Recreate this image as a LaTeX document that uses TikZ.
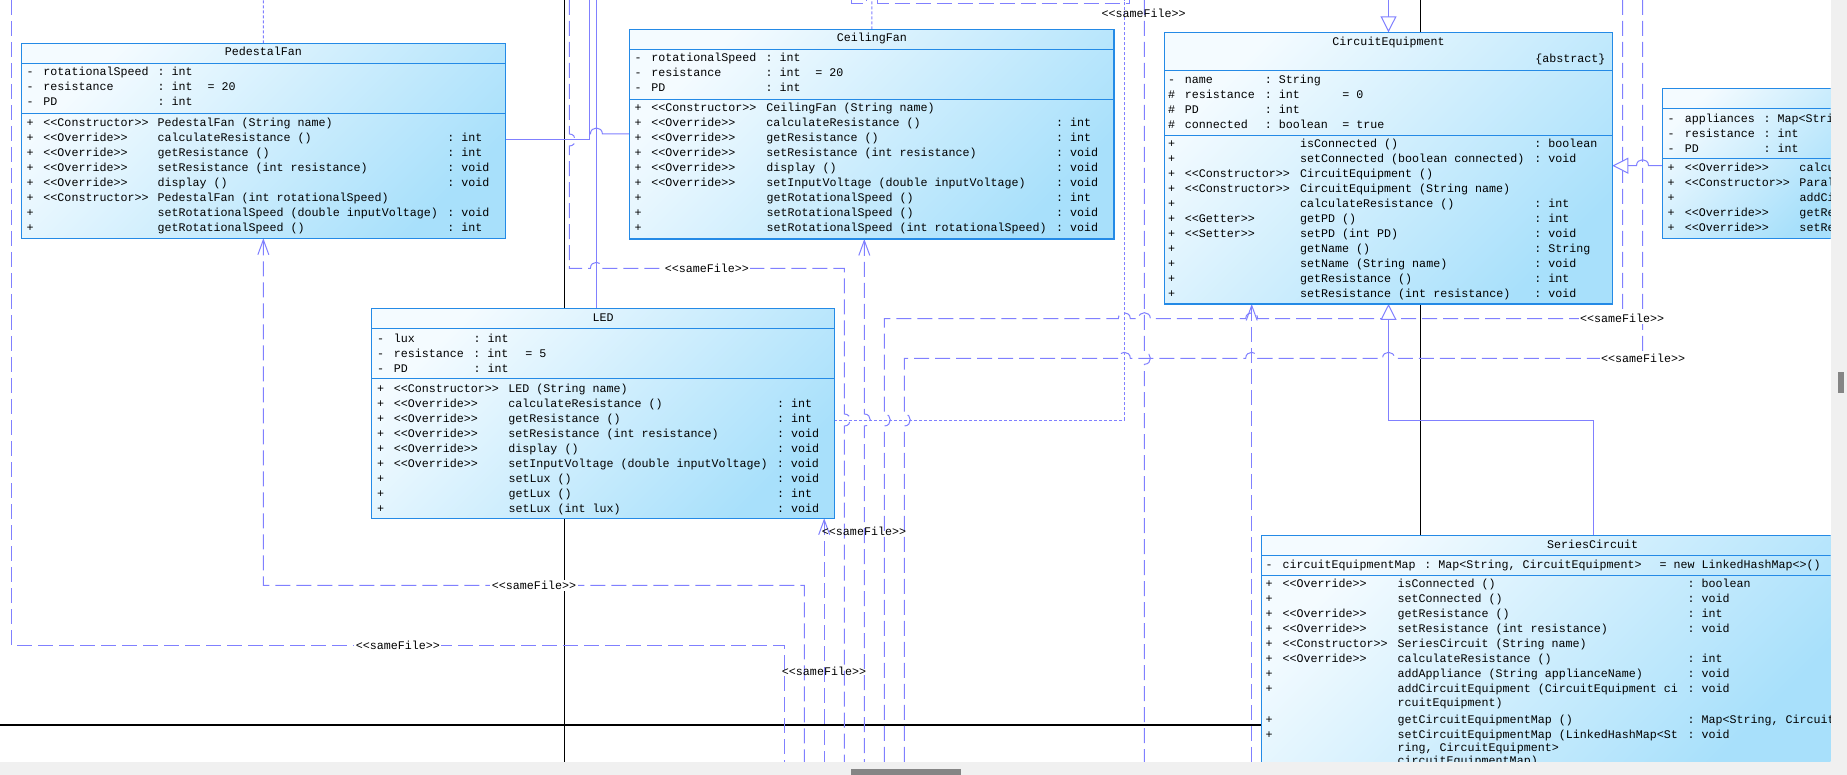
\documentclass[tikz,border=0pt]{standalone}
\usepackage{fontspec}
\setmonofont{Liberation Mono}
\usetikzlibrary{arrows.meta,backgrounds}

\definecolor{umlBorder}{RGB}{36,138,230}
\definecolor{umlLight}{RGB}{244,251,255}
\definecolor{umlDeep}{RGB}{168,224,251}
\definecolor{linkBlue}{RGB}{128,128,255}
\definecolor{barGray}{RGB}{240,240,240}
\definecolor{thumbGray}{RGB}{133,133,133}

\newcommand{\umlfont}{\ttfamily\fontsize{11.67}{15}\selectfont}

\tikzset{
  classbox/.style={draw=umlBorder, line width=1.2pt, top color=umlLight, bottom color=umlDeep,
    shading angle=45, inner sep=0pt, outer sep=0pt, anchor=north west},
  sepline/.style={draw=umlBorder, line width=1.2pt},
  umltext/.style={font=\umlfont, inner sep=0pt, anchor=north west},
  classname/.style={font=\umlfont, inner sep=0pt, anchor=base},
  solidlink/.style={draw=linkBlue, line width=1pt},
  dashlink/.style={solidlink, dash pattern=on 15pt off 6pt},
  dotlink/.style={solidlink, dash pattern=on 3pt off 2pt},
  dep/.style={{Straight Barb[length=15pt,width=11pt]}-},
  inherit/.style={{Triangle[length=16pt,width=16pt,fill=white]}-},
  blackline/.style={draw=black, line width=1pt},
  samefile/.style={font=\umlfont, inner sep=1.5pt, fill=white},
  samefileclear/.style={font=\umlfont, inner sep=1.5pt},
  hop/.style 2 args={insert path={-- (#1-6,#2) .. controls (#1-6,#2-8) and (#1+6,#2-8) .. (#1+6,#2)}},
  hopback/.style 2 args={insert path={-- (#1+6,#2) .. controls (#1+6,#2-8) and (#1-6,#2-8) .. (#1-6,#2)}},
  vhop/.style 2 args={insert path={-- (#1,#2-6) .. controls (#1+8,#2-6) and (#1+8,#2+6) .. (#1,#2+6)}}
}

\begin{document}
\begin{tikzpicture}[x=1pt, y=-1pt]
\useasboundingbox (0,0) rectangle (1847,775);

\begin{scope}
\clip (0,0) rectangle (1830.5,761.7);

% PedestalFan
\node[classbox, minimum width=483.9pt, minimum height=195pt] (pedestal) at (21.4,43.3) {};
\draw[sepline] ([yshift=-20pt]pedestal.north west) -- ([yshift=-20pt]pedestal.north east);
\draw[sepline] ([yshift=-70pt]pedestal.north west) -- ([yshift=-70pt]pedestal.north east);
\node[classname] (pedestalName) at (263.35,55.7) {PedestalFan};
\node[umltext] (pedestalAttr) at (26.5,65.2) {\begin{tabular}{@{}p{16.8pt}@{}p{114.2pt}@{}p{50pt}@{}l@{}}
- & rotationalSpeed & : int & \\
- & resistance & : int & = 20\\
- & PD & : int &
\end{tabular}};
\node[umltext] (pedestalOps) at (26.5,115.5) {\begin{tabular}{@{}p{16.8pt}@{}p{114.2pt}@{}p{289.7pt}@{}l@{}}
+ & <<Constructor>> & PedestalFan (String name) & \\
+ & <<Override>> & calculateResistance () & : int\\
+ & <<Override>> & getResistance () & : int\\
+ & <<Override>> & setResistance (int resistance) & : void\\
+ & <<Override>> & display () & : void\\
+ & <<Constructor>> & PedestalFan (int rotationalSpeed) & \\
+ & & setRotationalSpeed (double inputVoltage) & : void\\
+ & & getRotationalSpeed () & : int
\end{tabular}};

% CeilingFan
\node[classbox, minimum width=484.3pt, minimum height=209.7pt] (ceiling) at (629.7,29.3) {};
\draw[sepline] ([yshift=-20pt]ceiling.north west) -- ([yshift=-20pt]ceiling.north east);
\draw[sepline] ([yshift=-70pt]ceiling.north west) -- ([yshift=-70pt]ceiling.north east);
\node[classname] (ceilingName) at (871.85,41.7) {CeilingFan};
\node[umltext] (ceilingAttr) at (634.5,51.2) {\begin{tabular}{@{}p{16.7pt}@{}p{114.3pt}@{}p{49.6pt}@{}l@{}}
- & rotationalSpeed & : int & \\
- & resistance & : int & = 20\\
- & PD & : int &
\end{tabular}};
\node[umltext] (ceilingOps) at (634.5,101.2) {\begin{tabular}{@{}p{16.7pt}@{}p{115.1pt}@{}p{289.7pt}@{}l@{}}
+ & <<Constructor>> & CeilingFan (String name) & \\
+ & <<Override>> & calculateResistance () & : int\\
+ & <<Override>> & getResistance () & : int\\
+ & <<Override>> & setResistance (int resistance) & : void\\
+ & <<Override>> & display () & : void\\
+ & <<Override>> & setInputVoltage (double inputVoltage) & : void\\
+ & & getRotationalSpeed () & : int\\
+ & & setRotationalSpeed () & : void\\
+ & & setRotationalSpeed (int rotationalSpeed) & : void
\end{tabular}};

% CircuitEquipment
\node[classbox, minimum width=447.6pt, minimum height=271.7pt] (equipment) at (1164.7,32.3) {};
\draw[sepline] ([yshift=-38pt]equipment.north west) -- ([yshift=-38pt]equipment.north east);
\draw[sepline] ([yshift=-103pt]equipment.north west) -- ([yshift=-103pt]equipment.north east);
\node[classname] (equipmentName) at (1388.5,46) {CircuitEquipment};
\node[classname, anchor=base east] (equipmentTag) at (1605.6,62.7) {\{abstract\}};
\node[umltext] (equipmentAttr) at (1167.8,72.5) {\begin{tabular}{@{}p{16.8pt}@{}p{80.1pt}@{}p{77.4pt}@{}l@{}}
- & name & : String & \\
\# & resistance & : int & = 0\\
\# & PD & : int & \\
\# & connected & : boolean & = true
\end{tabular}};
\node[umltext] (equipmentOps) at (1167.8,137.2) {\begin{tabular}{@{}p{16.8pt}@{}p{115.4pt}@{}p{234.1pt}@{}l@{}}
+ & & isConnected () & : boolean\\
+ & & setConnected (boolean connected) & : void\\
+ & <<Constructor>> & CircuitEquipment () & \\
+ & <<Constructor>> & CircuitEquipment (String name) & \\
+ & & calculateResistance () & : int\\
+ & <<Getter>> & getPD () & : int\\
+ & <<Setter>> & setPD (int PD) & : void\\
+ & & getName () & : String\\
+ & & setName (String name) & : void\\
+ & & getResistance () & : int\\
+ & & setResistance (int resistance) & : void
\end{tabular}};

% LED
\node[classbox, minimum width=462.4pt, minimum height=210pt] (led) at (371.8,308.3) {};
\draw[sepline] ([yshift=-20pt]led.north west) -- ([yshift=-20pt]led.north east);
\draw[sepline] ([yshift=-70pt]led.north west) -- ([yshift=-70pt]led.north east);
\node[classname] (ledName) at (603,321.3) {LED};
\node[umltext] (ledAttr) at (376.9,331.5) {\begin{tabular}{@{}p{16.7pt}@{}p{79.7pt}@{}p{51.8pt}@{}l@{}}
- & lux & : int & \\
- & resistance & : int & = 5\\
- & PD & : int &
\end{tabular}};
\node[umltext] (ledOps) at (376.9,381.5) {\begin{tabular}{@{}p{16.7pt}@{}p{114.7pt}@{}p{268.5pt}@{}l@{}}
+ & <<Constructor>> & LED (String name) & \\
+ & <<Override>> & calculateResistance () & : int\\
+ & <<Override>> & getResistance () & : int\\
+ & <<Override>> & setResistance (int resistance) & : void\\
+ & <<Override>> & display () & : void\\
+ & <<Override>> & setInputVoltage (double inputVoltage) & : void\\
+ & & setLux () & : void\\
+ & & getLux () & : int\\
+ & & setLux (int lux) & : void
\end{tabular}};

% SeriesCircuit
\node[classbox, minimum width=570.6pt, minimum height=228.7pt] (series) at (1261.4,535.3) {};
\draw[sepline] ([yshift=-20pt]series.north west) -- ([yshift=-20pt]series.north east);
\draw[sepline] ([yshift=-40pt]series.north west) -- ([yshift=-40pt]series.north east);
\node[classname] (seriesName) at (1592.6,548) {SeriesCircuit};
\node[umltext] (seriesAttr) at (1265.5,557.5) {\begin{tabular}{@{}p{17pt}@{}p{141.8pt}@{}p{235.2pt}@{}l@{}}
- & circuitEquipmentMap & : Map<String, CircuitEquipment> & = new LinkedHashMap<>()
\end{tabular}};
\node[umltext] (seriesOps) at (1265.5,577.2) {\begin{tabular}{@{}p{17pt}@{}p{115pt}@{}p{289.9pt}@{}l@{}}
+ & <<Override>> & isConnected () & : boolean\\
+ & & setConnected () & : void\\
+ & <<Override>> & getResistance () & : int\\
+ & <<Override>> & setResistance (int resistance) & : void\\
+ & <<Constructor>> & SeriesCircuit (String name) & \\
+ & <<Override>> & calculateResistance () & : int\\
+ & & addAppliance (String applianceName) & : void\\
+ & & \baselineskip=13.3pt addCircuitEquipment (CircuitEquipment ci\newline rcuitEquipment) & : void\\[15.3pt]
+ & & getCircuitEquipmentMap () & : Map<String, Circuit\\
+ & & \baselineskip=13.3pt setCircuitEquipmentMap (LinkedHashMap<St\newline ring, CircuitEquipment>\newline circuitEquipmentMap) & : void
\end{tabular}};

% ParallelCircuit, cut by the right edge
\node[classbox, minimum width=169.5pt, minimum height=150pt] (parallel) at (1662.5,88.3) {};
\draw[sepline] ([yshift=-20pt]parallel.north west) -- ([yshift=-20pt]parallel.north east);
\draw[sepline] ([yshift=-70pt]parallel.north west) -- ([yshift=-70pt]parallel.north east);
\node[umltext] (parallelAttr) at (1667.5,111.8) {\begin{tabular}{@{}p{17.1pt}@{}p{78.9pt}@{}l@{}}
- & appliances & : Map<Stri\\
- & resistance & : int\\
- & PD & : int
\end{tabular}};
\node[umltext] (parallelOps) at (1667.5,161.2) {\begin{tabular}{@{}p{17.1pt}@{}p{114.7pt}@{}l@{}}
+ & <<Override>> & calcu\\
+ & <<Constructor>> & Paral\\
+ & & addCi\\
+ & <<Override>> & getRe\\
+ & <<Override>> & setRe
\end{tabular}};
\end{scope}

\begin{scope}[on background layer]
\fill[white] (0,0) rectangle (1847,775);
\clip (0,0) rectangle (1830.5,761.7);

% free ends outside the view
\coordinate (leftTop) at (11.5,0);
\coordinate (pedTop) at (263.35,0);
\coordinate (wireTopA) at (564.3,0);
\coordinate (seamTop) at (569.3,0);
\coordinate (fanTop) at (589.3,0);
\coordinate (ledTop) at (596.4,0);
\coordinate (bitA) at (851,0);
\coordinate (bitB) at (866,0);
\coordinate (ceilTop) at (871.85,0);
\coordinate (bitC) at (877,0);
\coordinate (bitD) at (1129,0);
\coordinate (dotTop) at (1124.3,0);
\coordinate (sameTop) at (1144.4,0);
\coordinate (superTop) at (1388.5,0);
\coordinate (wireTopB) at (1420.2,0);
\coordinate (rightTopA) at (1622.5,0);
\coordinate (rightTopB) at (1642.5,0);
\coordinate (wireLeft) at (0,725);
\coordinate (wireBot) at (564.3,762);
\coordinate (downA) at (784.3,762);
\coordinate (downB) at (804.3,762);
\coordinate (downC) at (824.2,762);
\coordinate (downD) at (844.3,762);
\coordinate (downE) at (864.3,762);
\coordinate (downF) at (884.3,762);
\coordinate (downG) at (904.3,762);
\coordinate (downH) at (1144.4,762);
\coordinate (downI) at (1251.7,762);

\draw[blackline] (wireTopA) -- (wireBot);
\draw[blackline] (wireTopB) -- ([xshift=-126.5pt]series.north);
\draw[blackline, line width=1.3pt] (wireLeft) -- ([yshift=-189.7pt]series.north west);

\draw[dashlink] (leftTop) -- (11.5,645.3) -| (downA);
\draw[dashlink, dep] (pedestal.south) -- (263.35,585.3) -| (downB);
\draw[dashlink, dep] ([xshift=221.2pt]led.south) -- (downC);
\draw[dashlink] (seamTop) [vhop={569.3}{140}] -- (569.3,268.3) [hop={596.4}{268.3}] -- (844.3,268.3) [vhop={844.3}{420}] -- (downD);
\draw[dashlink, dep] ([xshift=-7.55pt]ceiling.south) [vhop={864.3}{420}] -- (downE);
\draw[dashlink] (rightTopA) -- (1622.5,318.7) [hopback={1251.7}{318.7}] [hopback={1144.4}{318.7}] [hopback={1124.3}{318.7}] -- (884.3,318.7) [vhop={884.3}{420}] -- (downF);
\draw[dashlink] (rightTopB) -- (1642.5,358.3) [hopback={1388.5}{358.3}] [hopback={1251.7}{358.3}] [hopback={1124.3}{358.3}] -- (904.3,358.3) [vhop={904.3}{420}] -- (downG);
\draw[dashlink] (sameTop) [vhop={1144.4}{358.3}] -- (downH);
\draw[dashlink, dep] ([xshift=-136.8pt]equipment.south) -- (downI);
\draw[dashlink] (bitA) -- (851,3.3) -- (866,3.3) -- (bitB);
\draw[dashlink] (bitC) -- (877,3.3) -- (1129,3.3) -- (bitD);

\draw[dotlink] (pedestal.north) -- (pedTop);
\draw[dotlink] (ceiling.north) -- (ceilTop);
\draw[dotlink] ([yshift=-111.7pt]led.north east) -| (dotTop);

\draw[solidlink] ([yshift=-96.7pt]pedestal.north east) -| (fanTop);
\draw[solidlink] ([yshift=-104.7pt]ceiling.north west) [hopback={596.4}{134}] -- (589.3,134);
\draw[solidlink] ([xshift=-6.6pt]led.north) -- (ledTop);
\draw[solidlink, inherit] (equipment.north) -- (superTop);
\draw[solidlink, inherit] ([yshift=-133.4pt]equipment.north east) [hop={1642.5}{165.7}] -- ([yshift=-77.4pt]parallel.north west);
\draw[solidlink, inherit] (equipment.south) -- (1388.5,420) -| ([xshift=47.1pt]series.north);

\node[samefile] (sameA) at (397.8,645.3) {<<sameFile>>};
\node[samefile] (sameB) at (534,585.3) {<<sameFile>>};
\node[samefileclear] (sameC) at (864,531) {<<sameFile>>};
\node[samefile] (sameD) at (706.8,268.3) {<<sameFile>>};
\node[samefile] (sameE) at (1622,318.7) {<<sameFile>>};
\node[samefile] (sameF) at (1643,358.3) {<<sameFile>>};
\node[samefileclear] (sameG) at (1143.7,13) {<<sameFile>>};
\node[samefileclear] (sameH) at (824,671) {<<sameFile>>};
\end{scope}

% scroll bars
\fill[barGray] (1830.5,0) rectangle (1847,761.7);
\fill[barGray] (0,761.7) rectangle (1847,775);
\fill[thumbGray] (1838,371.7) rectangle (1844,392.7);
\fill[thumbGray] (851,769) rectangle (961,775);
\end{tikzpicture}
\end{document}
